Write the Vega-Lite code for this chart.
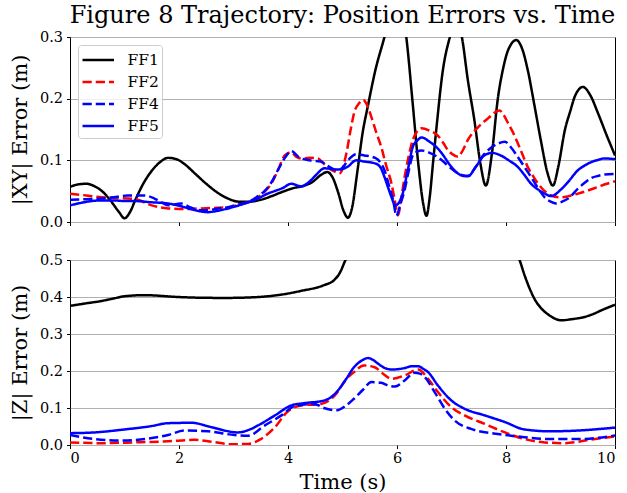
{
  "$schema": "https://vega.github.io/schema/vega-lite/v6.json",
  "padding": {"left": 8, "top": 3, "right": 10, "bottom": 0},
  "datasets": {
    "xy": [
      {"s": "FF1", "t": 0.0, "e": 0.057}, {"s": "FF1", "t": 0.15, "e": 0.061}, {"s": "FF1", "t": 0.3, "e": 0.062}, {"s": "FF1", "t": 0.45, "e": 0.058},
      {"s": "FF1", "t": 0.6, "e": 0.049}, {"s": "FF1", "t": 0.75, "e": 0.034}, {"s": "FF1", "t": 0.9, "e": 0.016}, {"s": "FF1", "t": 1.0, "e": 0.006},
      {"s": "FF1", "t": 1.1, "e": 0.016}, {"s": "FF1", "t": 1.2, "e": 0.036}, {"s": "FF1", "t": 1.35, "e": 0.063}, {"s": "FF1", "t": 1.5, "e": 0.083},
      {"s": "FF1", "t": 1.65, "e": 0.097}, {"s": "FF1", "t": 1.8, "e": 0.104}, {"s": "FF1", "t": 1.95, "e": 0.102}, {"s": "FF1", "t": 2.1, "e": 0.094},
      {"s": "FF1", "t": 2.3, "e": 0.078}, {"s": "FF1", "t": 2.5, "e": 0.062}, {"s": "FF1", "t": 2.7, "e": 0.048}, {"s": "FF1", "t": 2.9, "e": 0.038},
      {"s": "FF1", "t": 3.1, "e": 0.033}, {"s": "FF1", "t": 3.3, "e": 0.033}, {"s": "FF1", "t": 3.5, "e": 0.036}, {"s": "FF1", "t": 3.7, "e": 0.042},
      {"s": "FF1", "t": 3.9, "e": 0.049}, {"s": "FF1", "t": 4.1, "e": 0.055}, {"s": "FF1", "t": 4.3, "e": 0.059}, {"s": "FF1", "t": 4.45, "e": 0.065},
      {"s": "FF1", "t": 4.6, "e": 0.076}, {"s": "FF1", "t": 4.72, "e": 0.081}, {"s": "FF1", "t": 4.82, "e": 0.072}, {"s": "FF1", "t": 4.92, "e": 0.048},
      {"s": "FF1", "t": 5.02, "e": 0.018}, {"s": "FF1", "t": 5.1, "e": 0.007}, {"s": "FF1", "t": 5.18, "e": 0.025}, {"s": "FF1", "t": 5.27, "e": 0.08},
      {"s": "FF1", "t": 5.37, "e": 0.145}, {"s": "FF1", "t": 5.47, "e": 0.19}, {"s": "FF1", "t": 5.6, "e": 0.245}, {"s": "FF1", "t": 5.77, "e": 0.3},
      {"s": "FF1", "t": 5.97, "e": 0.37}, {"s": "FF1", "t": 6.17, "e": 0.3}, {"s": "FF1", "t": 6.28, "e": 0.2}, {"s": "FF1", "t": 6.39, "e": 0.095},
      {"s": "FF1", "t": 6.48, "e": 0.03}, {"s": "FF1", "t": 6.54, "e": 0.01}, {"s": "FF1", "t": 6.6, "e": 0.04}, {"s": "FF1", "t": 6.66, "e": 0.095},
      {"s": "FF1", "t": 6.72, "e": 0.149}, {"s": "FF1", "t": 6.84, "e": 0.245}, {"s": "FF1", "t": 6.97, "e": 0.3}, {"s": "FF1", "t": 7.08, "e": 0.33},
      {"s": "FF1", "t": 7.19, "e": 0.3}, {"s": "FF1", "t": 7.3, "e": 0.23}, {"s": "FF1", "t": 7.42, "e": 0.165}, {"s": "FF1", "t": 7.53, "e": 0.095},
      {"s": "FF1", "t": 7.63, "e": 0.059}, {"s": "FF1", "t": 7.74, "e": 0.11}, {"s": "FF1", "t": 7.85, "e": 0.2}, {"s": "FF1", "t": 7.95, "e": 0.25},
      {"s": "FF1", "t": 8.04, "e": 0.279}, {"s": "FF1", "t": 8.19, "e": 0.295}, {"s": "FF1", "t": 8.3, "e": 0.28}, {"s": "FF1", "t": 8.4, "e": 0.246},
      {"s": "FF1", "t": 8.52, "e": 0.19}, {"s": "FF1", "t": 8.64, "e": 0.132}, {"s": "FF1", "t": 8.76, "e": 0.08}, {"s": "FF1", "t": 8.86, "e": 0.059},
      {"s": "FF1", "t": 8.96, "e": 0.09}, {"s": "FF1", "t": 9.08, "e": 0.149}, {"s": "FF1", "t": 9.18, "e": 0.18}, {"s": "FF1", "t": 9.26, "e": 0.203},
      {"s": "FF1", "t": 9.41, "e": 0.219}, {"s": "FF1", "t": 9.55, "e": 0.205}, {"s": "FF1", "t": 9.69, "e": 0.176}, {"s": "FF1", "t": 9.85, "e": 0.14},
      {"s": "FF1", "t": 10.0, "e": 0.108},

      {"s": "FF2", "t": 0.0, "e": 0.046}, {"s": "FF2", "t": 0.3, "e": 0.043}, {"s": "FF2", "t": 0.6, "e": 0.04}, {"s": "FF2", "t": 0.9, "e": 0.039},
      {"s": "FF2", "t": 1.2, "e": 0.037}, {"s": "FF2", "t": 1.5, "e": 0.027}, {"s": "FF2", "t": 1.8, "e": 0.022}, {"s": "FF2", "t": 2.1, "e": 0.021},
      {"s": "FF2", "t": 2.4, "e": 0.022}, {"s": "FF2", "t": 2.7, "e": 0.023}, {"s": "FF2", "t": 2.9, "e": 0.024}, {"s": "FF2", "t": 3.1, "e": 0.028},
      {"s": "FF2", "t": 3.3, "e": 0.033}, {"s": "FF2", "t": 3.45, "e": 0.04}, {"s": "FF2", "t": 3.6, "e": 0.052}, {"s": "FF2", "t": 3.7, "e": 0.063},
      {"s": "FF2", "t": 3.82, "e": 0.085}, {"s": "FF2", "t": 3.94, "e": 0.108}, {"s": "FF2", "t": 4.06, "e": 0.113}, {"s": "FF2", "t": 4.15, "e": 0.106},
      {"s": "FF2", "t": 4.24, "e": 0.103}, {"s": "FF2", "t": 4.4, "e": 0.104}, {"s": "FF2", "t": 4.55, "e": 0.103}, {"s": "FF2", "t": 4.65, "e": 0.095},
      {"s": "FF2", "t": 4.73, "e": 0.089}, {"s": "FF2", "t": 4.85, "e": 0.082}, {"s": "FF2", "t": 4.95, "e": 0.079}, {"s": "FF2", "t": 5.07, "e": 0.111},
      {"s": "FF2", "t": 5.15, "e": 0.15}, {"s": "FF2", "t": 5.22, "e": 0.179}, {"s": "FF2", "t": 5.3, "e": 0.192}, {"s": "FF2", "t": 5.38, "e": 0.198},
      {"s": "FF2", "t": 5.45, "e": 0.19}, {"s": "FF2", "t": 5.53, "e": 0.17}, {"s": "FF2", "t": 5.62, "e": 0.145}, {"s": "FF2", "t": 5.71, "e": 0.122},
      {"s": "FF2", "t": 5.8, "e": 0.092}, {"s": "FF2", "t": 5.9, "e": 0.062}, {"s": "FF2", "t": 5.96, "e": 0.035}, {"s": "FF2", "t": 6.02, "e": 0.011},
      {"s": "FF2", "t": 6.08, "e": 0.04}, {"s": "FF2", "t": 6.14, "e": 0.073}, {"s": "FF2", "t": 6.21, "e": 0.105}, {"s": "FF2", "t": 6.29, "e": 0.133},
      {"s": "FF2", "t": 6.37, "e": 0.147}, {"s": "FF2", "t": 6.45, "e": 0.152}, {"s": "FF2", "t": 6.6, "e": 0.148}, {"s": "FF2", "t": 6.75, "e": 0.14},
      {"s": "FF2", "t": 6.85, "e": 0.128}, {"s": "FF2", "t": 6.94, "e": 0.116}, {"s": "FF2", "t": 7.0, "e": 0.111}, {"s": "FF2", "t": 7.12, "e": 0.106},
      {"s": "FF2", "t": 7.2, "e": 0.115}, {"s": "FF2", "t": 7.3, "e": 0.133}, {"s": "FF2", "t": 7.49, "e": 0.154}, {"s": "FF2", "t": 7.67, "e": 0.168},
      {"s": "FF2", "t": 7.8, "e": 0.178}, {"s": "FF2", "t": 7.88, "e": 0.181}, {"s": "FF2", "t": 7.96, "e": 0.173}, {"s": "FF2", "t": 8.04, "e": 0.16},
      {"s": "FF2", "t": 8.13, "e": 0.145}, {"s": "FF2", "t": 8.22, "e": 0.127}, {"s": "FF2", "t": 8.31, "e": 0.108}, {"s": "FF2", "t": 8.4, "e": 0.089},
      {"s": "FF2", "t": 8.5, "e": 0.074}, {"s": "FF2", "t": 8.59, "e": 0.062}, {"s": "FF2", "t": 8.7, "e": 0.051}, {"s": "FF2", "t": 8.83, "e": 0.043},
      {"s": "FF2", "t": 9.01, "e": 0.04}, {"s": "FF2", "t": 9.15, "e": 0.042}, {"s": "FF2", "t": 9.32, "e": 0.046}, {"s": "FF2", "t": 9.5, "e": 0.051},
      {"s": "FF2", "t": 9.69, "e": 0.057}, {"s": "FF2", "t": 9.85, "e": 0.062}, {"s": "FF2", "t": 10.0, "e": 0.066},

      {"s": "FF4", "t": 0.0, "e": 0.036}, {"s": "FF4", "t": 0.3, "e": 0.037}, {"s": "FF4", "t": 0.57, "e": 0.038}, {"s": "FF4", "t": 0.8, "e": 0.04},
      {"s": "FF4", "t": 1.06, "e": 0.043}, {"s": "FF4", "t": 1.37, "e": 0.043}, {"s": "FF4", "t": 1.55, "e": 0.038}, {"s": "FF4", "t": 1.7, "e": 0.031},
      {"s": "FF4", "t": 1.8, "e": 0.027}, {"s": "FF4", "t": 2.04, "e": 0.03}, {"s": "FF4", "t": 2.2, "e": 0.024}, {"s": "FF4", "t": 2.41, "e": 0.019},
      {"s": "FF4", "t": 2.6, "e": 0.02}, {"s": "FF4", "t": 2.72, "e": 0.022}, {"s": "FF4", "t": 2.9, "e": 0.024}, {"s": "FF4", "t": 3.02, "e": 0.027},
      {"s": "FF4", "t": 3.2, "e": 0.031}, {"s": "FF4", "t": 3.33, "e": 0.035}, {"s": "FF4", "t": 3.45, "e": 0.042}, {"s": "FF4", "t": 3.57, "e": 0.05},
      {"s": "FF4", "t": 3.7, "e": 0.065}, {"s": "FF4", "t": 3.82, "e": 0.085}, {"s": "FF4", "t": 3.95, "e": 0.105}, {"s": "FF4", "t": 4.06, "e": 0.115},
      {"s": "FF4", "t": 4.2, "e": 0.105}, {"s": "FF4", "t": 4.4, "e": 0.1}, {"s": "FF4", "t": 4.6, "e": 0.098}, {"s": "FF4", "t": 4.75, "e": 0.09},
      {"s": "FF4", "t": 4.9, "e": 0.084}, {"s": "FF4", "t": 5.0, "e": 0.088}, {"s": "FF4", "t": 5.1, "e": 0.1}, {"s": "FF4", "t": 5.25, "e": 0.11},
      {"s": "FF4", "t": 5.4, "e": 0.108}, {"s": "FF4", "t": 5.6, "e": 0.104}, {"s": "FF4", "t": 5.7, "e": 0.096}, {"s": "FF4", "t": 5.77, "e": 0.084},
      {"s": "FF4", "t": 5.85, "e": 0.06}, {"s": "FF4", "t": 5.93, "e": 0.035}, {"s": "FF4", "t": 5.99, "e": 0.01}, {"s": "FF4", "t": 6.06, "e": 0.028},
      {"s": "FF4", "t": 6.14, "e": 0.052}, {"s": "FF4", "t": 6.22, "e": 0.085}, {"s": "FF4", "t": 6.29, "e": 0.108}, {"s": "FF4", "t": 6.37, "e": 0.114},
      {"s": "FF4", "t": 6.45, "e": 0.116}, {"s": "FF4", "t": 6.6, "e": 0.112}, {"s": "FF4", "t": 6.75, "e": 0.105}, {"s": "FF4", "t": 6.85, "e": 0.098},
      {"s": "FF4", "t": 6.95, "e": 0.09}, {"s": "FF4", "t": 7.1, "e": 0.08}, {"s": "FF4", "t": 7.2, "e": 0.076}, {"s": "FF4", "t": 7.3, "e": 0.075},
      {"s": "FF4", "t": 7.45, "e": 0.09}, {"s": "FF4", "t": 7.6, "e": 0.11}, {"s": "FF4", "t": 7.72, "e": 0.12}, {"s": "FF4", "t": 7.85, "e": 0.127},
      {"s": "FF4", "t": 7.98, "e": 0.13}, {"s": "FF4", "t": 8.1, "e": 0.12}, {"s": "FF4", "t": 8.22, "e": 0.105}, {"s": "FF4", "t": 8.34, "e": 0.089},
      {"s": "FF4", "t": 8.46, "e": 0.073}, {"s": "FF4", "t": 8.58, "e": 0.056}, {"s": "FF4", "t": 8.71, "e": 0.04}, {"s": "FF4", "t": 8.82, "e": 0.033},
      {"s": "FF4", "t": 8.92, "e": 0.03}, {"s": "FF4", "t": 9.03, "e": 0.033}, {"s": "FF4", "t": 9.14, "e": 0.038}, {"s": "FF4", "t": 9.32, "e": 0.054},
      {"s": "FF4", "t": 9.45, "e": 0.064}, {"s": "FF4", "t": 9.56, "e": 0.071}, {"s": "FF4", "t": 9.7, "e": 0.075}, {"s": "FF4", "t": 9.81, "e": 0.077},
      {"s": "FF4", "t": 10.0, "e": 0.078},

      {"s": "FF5", "t": 0.0, "e": 0.027}, {"s": "FF5", "t": 0.2, "e": 0.031}, {"s": "FF5", "t": 0.4, "e": 0.034}, {"s": "FF5", "t": 0.57, "e": 0.035},
      {"s": "FF5", "t": 0.8, "e": 0.035}, {"s": "FF5", "t": 1.0, "e": 0.034}, {"s": "FF5", "t": 1.19, "e": 0.034}, {"s": "FF5", "t": 1.49, "e": 0.032},
      {"s": "FF5", "t": 1.8, "e": 0.03}, {"s": "FF5", "t": 2.1, "e": 0.024}, {"s": "FF5", "t": 2.3, "e": 0.019}, {"s": "FF5", "t": 2.53, "e": 0.016},
      {"s": "FF5", "t": 2.7, "e": 0.018}, {"s": "FF5", "t": 2.9, "e": 0.022}, {"s": "FF5", "t": 3.1, "e": 0.027}, {"s": "FF5", "t": 3.27, "e": 0.032},
      {"s": "FF5", "t": 3.45, "e": 0.038}, {"s": "FF5", "t": 3.6, "e": 0.045}, {"s": "FF5", "t": 3.75, "e": 0.05}, {"s": "FF5", "t": 3.9, "e": 0.055},
      {"s": "FF5", "t": 4.06, "e": 0.062}, {"s": "FF5", "t": 4.24, "e": 0.058}, {"s": "FF5", "t": 4.4, "e": 0.066}, {"s": "FF5", "t": 4.5, "e": 0.075},
      {"s": "FF5", "t": 4.67, "e": 0.087}, {"s": "FF5", "t": 4.9, "e": 0.085}, {"s": "FF5", "t": 5.0, "e": 0.086}, {"s": "FF5", "t": 5.1, "e": 0.09},
      {"s": "FF5", "t": 5.25, "e": 0.1}, {"s": "FF5", "t": 5.4, "e": 0.098}, {"s": "FF5", "t": 5.6, "e": 0.095}, {"s": "FF5", "t": 5.7, "e": 0.088},
      {"s": "FF5", "t": 5.77, "e": 0.073}, {"s": "FF5", "t": 5.84, "e": 0.055}, {"s": "FF5", "t": 5.9, "e": 0.04}, {"s": "FF5", "t": 5.97, "e": 0.027},
      {"s": "FF5", "t": 6.04, "e": 0.032}, {"s": "FF5", "t": 6.1, "e": 0.045}, {"s": "FF5", "t": 6.2, "e": 0.085}, {"s": "FF5", "t": 6.29, "e": 0.122},
      {"s": "FF5", "t": 6.37, "e": 0.132}, {"s": "FF5", "t": 6.45, "e": 0.137}, {"s": "FF5", "t": 6.6, "e": 0.13}, {"s": "FF5", "t": 6.75, "e": 0.119},
      {"s": "FF5", "t": 6.85, "e": 0.108}, {"s": "FF5", "t": 6.95, "e": 0.095}, {"s": "FF5", "t": 7.1, "e": 0.08}, {"s": "FF5", "t": 7.2, "e": 0.075},
      {"s": "FF5", "t": 7.3, "e": 0.074}, {"s": "FF5", "t": 7.45, "e": 0.09}, {"s": "FF5", "t": 7.6, "e": 0.108}, {"s": "FF5", "t": 7.75, "e": 0.112},
      {"s": "FF5", "t": 7.9, "e": 0.108}, {"s": "FF5", "t": 8.05, "e": 0.1}, {"s": "FF5", "t": 8.22, "e": 0.089}, {"s": "FF5", "t": 8.34, "e": 0.076},
      {"s": "FF5", "t": 8.46, "e": 0.062}, {"s": "FF5", "t": 8.6, "e": 0.052}, {"s": "FF5", "t": 8.71, "e": 0.046}, {"s": "FF5", "t": 8.83, "e": 0.042},
      {"s": "FF5", "t": 9.0, "e": 0.052}, {"s": "FF5", "t": 9.14, "e": 0.065}, {"s": "FF5", "t": 9.32, "e": 0.084}, {"s": "FF5", "t": 9.45, "e": 0.092},
      {"s": "FF5", "t": 9.56, "e": 0.097}, {"s": "FF5", "t": 9.7, "e": 0.101}, {"s": "FF5", "t": 9.8, "e": 0.103}, {"s": "FF5", "t": 10.0, "e": 0.102}
    ],
    "z": [
      {"s": "FF1", "t": 0.0, "e": 0.376}, {"s": "FF1", "t": 0.3, "e": 0.383}, {"s": "FF1", "t": 0.57, "e": 0.389}, {"s": "FF1", "t": 0.8, "e": 0.396},
      {"s": "FF1", "t": 1.0, "e": 0.402}, {"s": "FF1", "t": 1.37, "e": 0.405}, {"s": "FF1", "t": 1.98, "e": 0.4}, {"s": "FF1", "t": 2.41, "e": 0.398},
      {"s": "FF1", "t": 2.84, "e": 0.3975}, {"s": "FF1", "t": 3.33, "e": 0.399}, {"s": "FF1", "t": 3.88, "e": 0.4065}, {"s": "FF1", "t": 4.24, "e": 0.4165},
      {"s": "FF1", "t": 4.66, "e": 0.432}, {"s": "FF1", "t": 4.84, "e": 0.445}, {"s": "FF1", "t": 4.95, "e": 0.465}, {"s": "FF1", "t": 5.04, "e": 0.495},
      {"s": "FF1", "t": 5.15, "e": 0.53}, {"s": "FF1", "t": 5.4, "e": 0.6}, {"s": "FF1", "t": 6.0, "e": 0.68}, {"s": "FF1", "t": 7.0, "e": 0.72},
      {"s": "FF1", "t": 7.6, "e": 0.68}, {"s": "FF1", "t": 8.0, "e": 0.6}, {"s": "FF1", "t": 8.25, "e": 0.5}, {"s": "FF1", "t": 8.35, "e": 0.455},
      {"s": "FF1", "t": 8.46, "e": 0.414}, {"s": "FF1", "t": 8.55, "e": 0.388}, {"s": "FF1", "t": 8.65, "e": 0.369}, {"s": "FF1", "t": 8.8, "e": 0.35},
      {"s": "FF1", "t": 9.02, "e": 0.337}, {"s": "FF1", "t": 9.2, "e": 0.34}, {"s": "FF1", "t": 9.44, "e": 0.346}, {"s": "FF1", "t": 9.6, "e": 0.354},
      {"s": "FF1", "t": 9.75, "e": 0.364}, {"s": "FF1", "t": 10.0, "e": 0.379},

      {"s": "FF2", "t": 0.0, "e": 0.007}, {"s": "FF2", "t": 0.57, "e": 0.005}, {"s": "FF2", "t": 1.19, "e": 0.007}, {"s": "FF2", "t": 1.8, "e": 0.01},
      {"s": "FF2", "t": 2.28, "e": 0.014}, {"s": "FF2", "t": 2.6, "e": 0.009}, {"s": "FF2", "t": 2.96, "e": 0.002}, {"s": "FF2", "t": 3.27, "e": 0.003},
      {"s": "FF2", "t": 3.5, "e": 0.016}, {"s": "FF2", "t": 3.76, "e": 0.048}, {"s": "FF2", "t": 3.99, "e": 0.09}, {"s": "FF2", "t": 4.24, "e": 0.107},
      {"s": "FF2", "t": 4.6, "e": 0.111}, {"s": "FF2", "t": 4.86, "e": 0.134}, {"s": "FF2", "t": 5.07, "e": 0.178}, {"s": "FF2", "t": 5.21, "e": 0.197},
      {"s": "FF2", "t": 5.39, "e": 0.215}, {"s": "FF2", "t": 5.59, "e": 0.21}, {"s": "FF2", "t": 5.75, "e": 0.192}, {"s": "FF2", "t": 5.9, "e": 0.179},
      {"s": "FF2", "t": 6.14, "e": 0.188}, {"s": "FF2", "t": 6.39, "e": 0.204}, {"s": "FF2", "t": 6.57, "e": 0.179}, {"s": "FF2", "t": 6.75, "e": 0.143},
      {"s": "FF2", "t": 7.0, "e": 0.102}, {"s": "FF2", "t": 7.24, "e": 0.08}, {"s": "FF2", "t": 7.61, "e": 0.057}, {"s": "FF2", "t": 7.98, "e": 0.034},
      {"s": "FF2", "t": 8.34, "e": 0.016}, {"s": "FF2", "t": 8.71, "e": 0.007}, {"s": "FF2", "t": 9.07, "e": 0.005}, {"s": "FF2", "t": 9.57, "e": 0.015},
      {"s": "FF2", "t": 10.0, "e": 0.023},

      {"s": "FF4", "t": 0.0, "e": 0.027}, {"s": "FF4", "t": 0.45, "e": 0.016}, {"s": "FF4", "t": 0.88, "e": 0.012}, {"s": "FF4", "t": 1.37, "e": 0.016},
      {"s": "FF4", "t": 1.8, "e": 0.027}, {"s": "FF4", "t": 2.1, "e": 0.039}, {"s": "FF4", "t": 2.53, "e": 0.037}, {"s": "FF4", "t": 3.02, "e": 0.027},
      {"s": "FF4", "t": 3.27, "e": 0.025}, {"s": "FF4", "t": 3.57, "e": 0.0525}, {"s": "FF4", "t": 3.88, "e": 0.08}, {"s": "FF4", "t": 4.12, "e": 0.105},
      {"s": "FF4", "t": 4.48, "e": 0.111}, {"s": "FF4", "t": 4.66, "e": 0.1}, {"s": "FF4", "t": 4.9, "e": 0.094}, {"s": "FF4", "t": 5.05, "e": 0.105},
      {"s": "FF4", "t": 5.21, "e": 0.125}, {"s": "FF4", "t": 5.38, "e": 0.15}, {"s": "FF4", "t": 5.53, "e": 0.17}, {"s": "FF4", "t": 5.71, "e": 0.168},
      {"s": "FF4", "t": 5.85, "e": 0.16}, {"s": "FF4", "t": 5.96, "e": 0.158}, {"s": "FF4", "t": 6.14, "e": 0.1745}, {"s": "FF4", "t": 6.32, "e": 0.195},
      {"s": "FF4", "t": 6.42, "e": 0.193}, {"s": "FF4", "t": 6.51, "e": 0.1835}, {"s": "FF4", "t": 6.69, "e": 0.143}, {"s": "FF4", "t": 6.88, "e": 0.0976},
      {"s": "FF4", "t": 7.06, "e": 0.066}, {"s": "FF4", "t": 7.36, "e": 0.0434}, {"s": "FF4", "t": 7.85, "e": 0.03}, {"s": "FF4", "t": 8.34, "e": 0.021},
      {"s": "FF4", "t": 8.82, "e": 0.016}, {"s": "FF4", "t": 9.31, "e": 0.016}, {"s": "FF4", "t": 10.0, "e": 0.0255},

      {"s": "FF5", "t": 0.0, "e": 0.032}, {"s": "FF5", "t": 0.45, "e": 0.034}, {"s": "FF5", "t": 1.0, "e": 0.042}, {"s": "FF5", "t": 1.49, "e": 0.051},
      {"s": "FF5", "t": 1.8, "e": 0.059}, {"s": "FF5", "t": 2.23, "e": 0.06}, {"s": "FF5", "t": 2.6, "e": 0.048}, {"s": "FF5", "t": 3.08, "e": 0.034},
      {"s": "FF5", "t": 3.3, "e": 0.042}, {"s": "FF5", "t": 3.45, "e": 0.053}, {"s": "FF5", "t": 3.76, "e": 0.08}, {"s": "FF5", "t": 4.06, "e": 0.107},
      {"s": "FF5", "t": 4.29, "e": 0.113}, {"s": "FF5", "t": 4.66, "e": 0.12}, {"s": "FF5", "t": 4.86, "e": 0.138}, {"s": "FF5", "t": 5.07, "e": 0.179},
      {"s": "FF5", "t": 5.21, "e": 0.21}, {"s": "FF5", "t": 5.35, "e": 0.228}, {"s": "FF5", "t": 5.47, "e": 0.235}, {"s": "FF5", "t": 5.56, "e": 0.23},
      {"s": "FF5", "t": 5.65, "e": 0.22}, {"s": "FF5", "t": 5.78, "e": 0.208}, {"s": "FF5", "t": 5.9, "e": 0.204}, {"s": "FF5", "t": 6.02, "e": 0.205},
      {"s": "FF5", "t": 6.14, "e": 0.208}, {"s": "FF5", "t": 6.28, "e": 0.213}, {"s": "FF5", "t": 6.39, "e": 0.213}, {"s": "FF5", "t": 6.48, "e": 0.206},
      {"s": "FF5", "t": 6.57, "e": 0.197}, {"s": "FF5", "t": 6.75, "e": 0.161}, {"s": "FF5", "t": 7.0, "e": 0.12}, {"s": "FF5", "t": 7.24, "e": 0.098},
      {"s": "FF5", "t": 7.61, "e": 0.08}, {"s": "FF5", "t": 7.98, "e": 0.062}, {"s": "FF5", "t": 8.34, "e": 0.042}, {"s": "FF5", "t": 8.82, "e": 0.037},
      {"s": "FF5", "t": 9.31, "e": 0.039}, {"s": "FF5", "t": 10.0, "e": 0.047}
    ]
  },
  "vconcat": [
    {
      "title": {"text": "Figure 8 Trajectory: Position Errors vs. Time", "frame": "group", "anchor": "middle", "offset": 1},
      "width": 545,
      "height": 185,
      "data": {"name": "xy"},
      "mark": {"type": "line", "strokeWidth": 2.5, "clip": true, "interpolate": "monotone"},
      "encoding": {
        "x": {"field": "t", "type": "quantitative", "scale": {"domain": [0, 10], "nice": false},
              "axis": {"values": [0, 2, 4, 6, 8, 10], "labels": false, "title": null}},
        "y": {"field": "e", "type": "quantitative", "scale": {"domain": [0, 0.3], "nice": false},
              "axis": {"values": [0, 0.1, 0.2, 0.3], "format": ".1f", "title": "|XY| Error (m)"}},
        "color": {"field": "s", "type": "nominal",
                  "scale": {"domain": ["FF1", "FF2", "FF4", "FF5"], "range": ["#000000", "#ff0000", "#0000ff", "#0000ff"]},
                  "legend": {"title": null, "orient": "top-left", "offset": 8}},
        "strokeDash": {"field": "s", "type": "nominal",
                       "scale": {"domain": ["FF1", "FF2", "FF4", "FF5"], "range": [[1, 0], [9.25, 4], [9.25, 4], [1, 0]]},
                       "legend": {"title": null, "orient": "top-left", "offset": 8}}
      }
    },
    {
      "width": 545,
      "height": 185,
      "data": {"name": "z"},
      "mark": {"type": "line", "strokeWidth": 2.5, "clip": true, "interpolate": "monotone"},
      "encoding": {
        "x": {"field": "t", "type": "quantitative", "scale": {"domain": [0, 10], "nice": false},
              "axis": {"values": [0, 2, 4, 6, 8, 10], "title": "Time (s)"}},
        "y": {"field": "e", "type": "quantitative", "scale": {"domain": [0, 0.5], "nice": false},
              "axis": {"values": [0, 0.1, 0.2, 0.3, 0.4, 0.5], "format": ".1f", "title": "|Z| Error (m)"}},
        "color": {"field": "s", "type": "nominal",
                  "scale": {"domain": ["FF1", "FF2", "FF4", "FF5"], "range": ["#000000", "#ff0000", "#0000ff", "#0000ff"]},
                  "legend": null},
        "strokeDash": {"field": "s", "type": "nominal",
                       "scale": {"domain": ["FF1", "FF2", "FF4", "FF5"], "range": [[1, 0], [9.25, 4], [9.25, 4], [1, 0]]},
                       "legend": null}
      }
    }
  ],
  "spacing": 22,
  "resolve": {"scale": {"color": "independent", "strokeDash": "independent", "y": "independent"}},
  "config": {
    "font": "DejaVu Serif",
    "view": {"stroke": "#000000", "strokeWidth": 1},
    "axis": {
      "domain": false, "tickColor": "#000000", "tickSize": 3.5, "tickWidth": 1,
      "labelFont": "DejaVu Serif", "labelFontSize": 14.5, "labelColor": "#000000", "labelPadding": 4,
      "titleFont": "DejaVu Serif", "titleFontSize": 21, "titleFontWeight": "normal", "titleColor": "#000000", "titlePadding": 9,
      "gridColor": "#b0b0b0", "gridWidth": 1, "gridOpacity": 1
    },
    "axisX": {"grid": false, "labelPadding": 3, "titlePadding": 6},
    "legend": {
      "symbolType": "M-1,0H2", "symbolSize": 441, "symbolStrokeWidth": 2.5, "symbolFillColor": "transparent",
      "labelFont": "DejaVu Serif", "labelFontSize": 15.5, "labelColor": "#000000", "labelOffset": 22.5,
      "padding": 3, "rowPadding": 1, "strokeColor": "#cccccc", "cornerRadius": 3, "fillColor": "rgba(255,255,255,0.8)"
    },
    "title": {"font": "DejaVu Serif", "fontSize": 24, "fontWeight": "normal", "color": "#000000"}
  }
}
